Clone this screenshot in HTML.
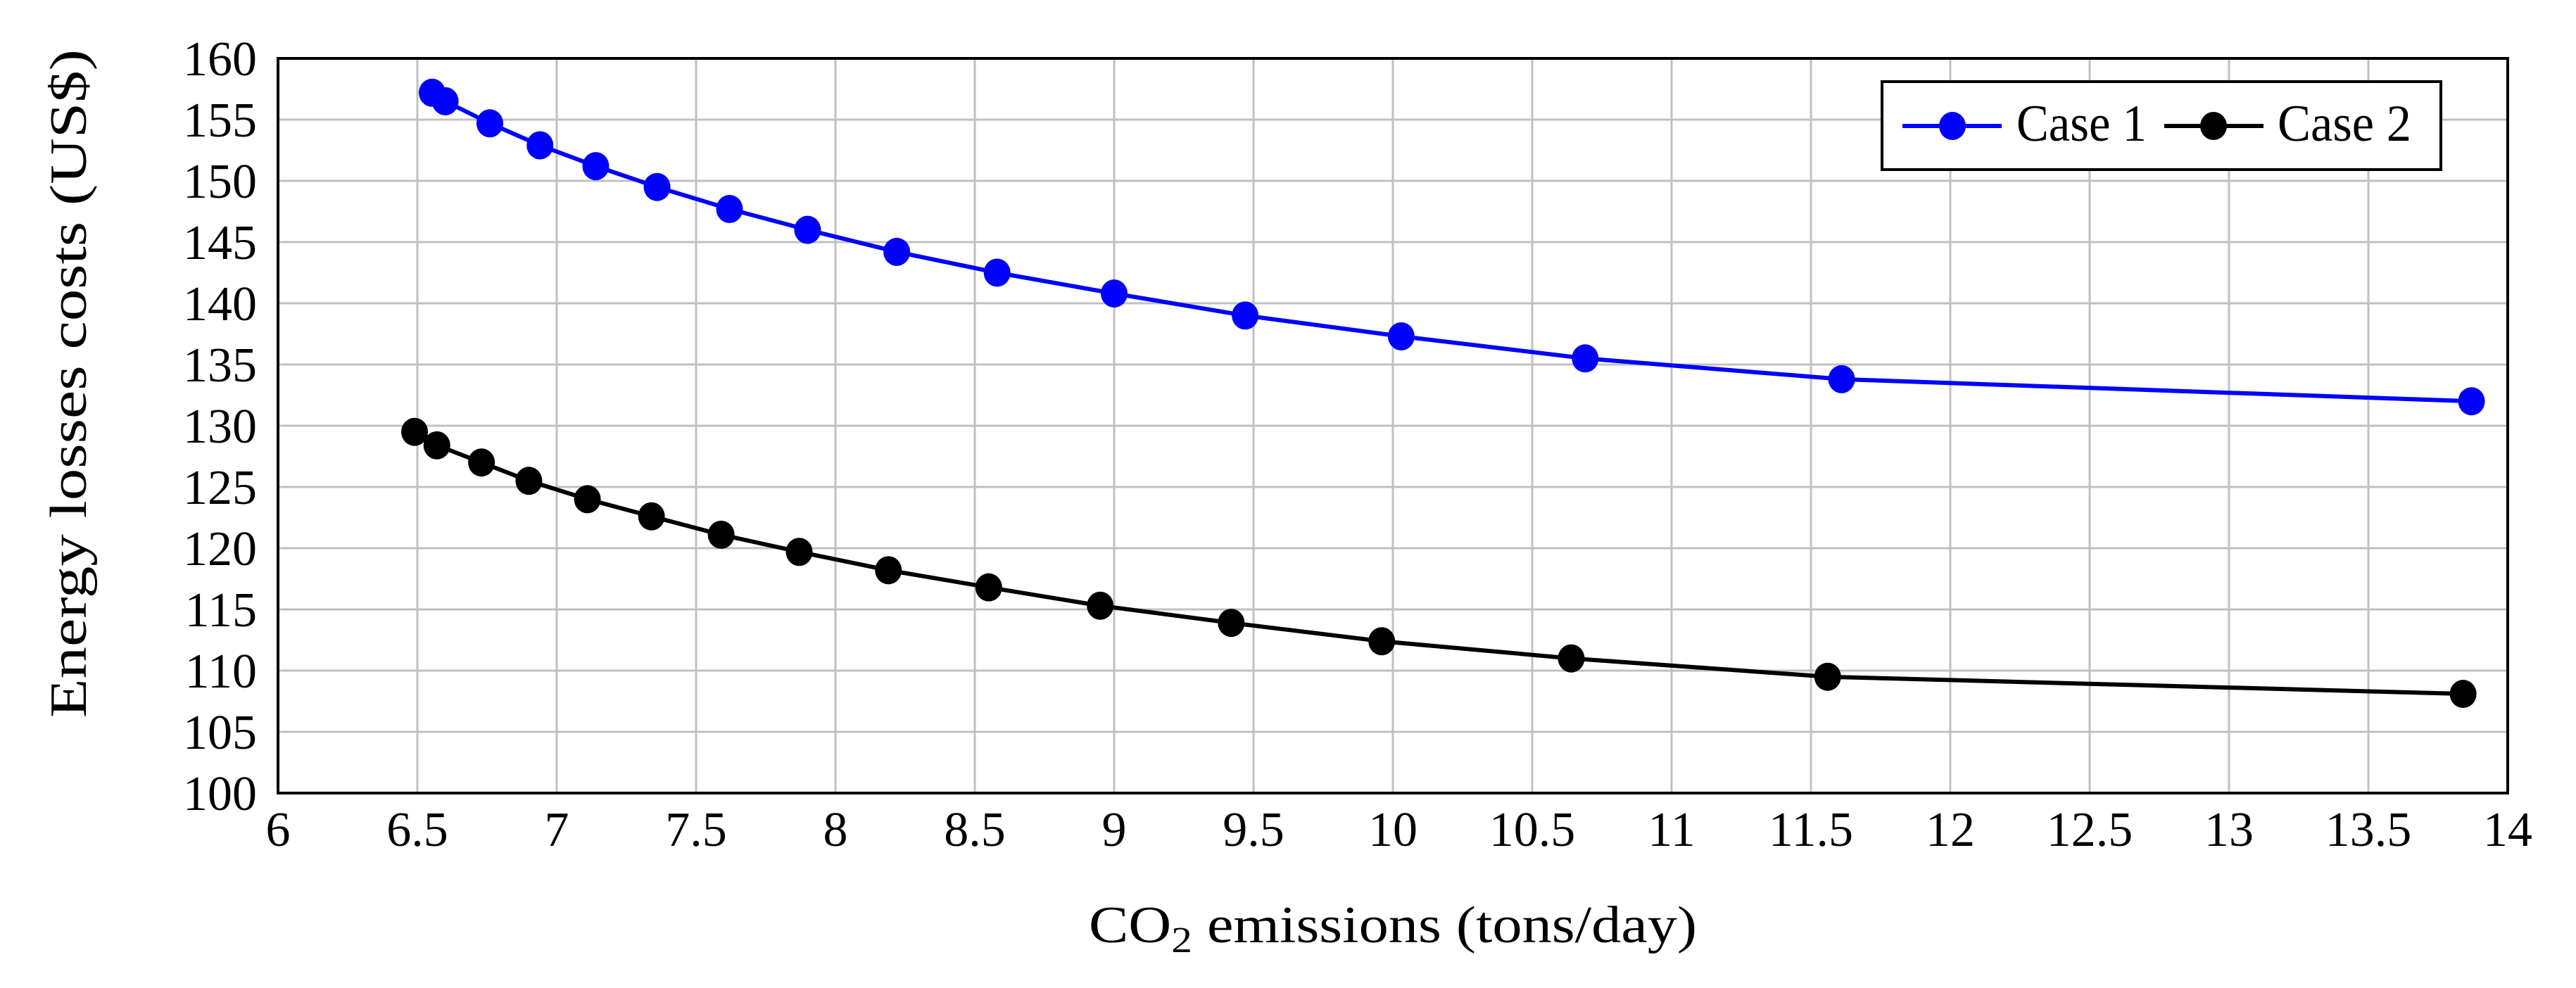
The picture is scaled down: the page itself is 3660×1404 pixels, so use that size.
<!DOCTYPE html>
<html><head><meta charset="utf-8"><style>
html,body{margin:0;padding:0;background:#fff;}
svg{display:block;font-family:"Liberation Serif",serif;}
</style></head><body>
<svg id="chart" width="3660" height="1404" viewBox="0 0 3660 1404" xmlns="http://www.w3.org/2000/svg">
<g id="grid"></g>
<g id="series"></g>
<rect x="395" y="83" width="3168" height="1044" fill="none" stroke="#000" stroke-width="4"/>
<g id="ticks"></g>
<text x="1547" y="1339" font-size="74" textLength="864" lengthAdjust="spacingAndGlyphs">CO<tspan font-size="52" dy="14">2</tspan><tspan dy="-14"> emissions (tons/day)</tspan></text>
<text transform="translate(122,545) rotate(-90)" font-size="74" text-anchor="middle" textLength="950" lengthAdjust="spacingAndGlyphs">Energy losses costs (US$)</text>
<g>
<rect x="2674" y="116" width="794" height="125" fill="#fff" stroke="#000" stroke-width="4"/>
<g>
<line x1="2703" y1="179" x2="2844" y2="179" stroke="#0000ff" stroke-width="6"/>
<ellipse cx="2774" cy="179" rx="19" ry="20" fill="#0000ff"/>
<text x="2865" y="200" font-size="74" textLength="185" lengthAdjust="spacingAndGlyphs">Case 1</text>
</g>
<g>
<line x1="3075" y1="179" x2="3216" y2="179" stroke="#000" stroke-width="6"/>
<ellipse cx="3145" cy="179" rx="19" ry="20" fill="#000"/>
<text x="3236" y="200" font-size="74" textLength="190" lengthAdjust="spacingAndGlyphs">Case 2</text>
</g>
</g>
</svg>
<script>
const xTicks = [6,6.5,7,7.5,8,8.5,9,9.5,10,10.5,11,11.5,12,12.5,13,13.5,14];
const yTicks = [100,105,110,115,120,125,130,135,140,145,150,155,160];
const case1X = [6.553,6.60,6.76,6.94,7.14,7.36,7.62,7.90,8.22,8.58,9.00,9.47,10.03,10.69,11.61,13.87];
const case1Y = [157.2,156.5,154.7,152.9,151.2,149.5,147.7,146.0,144.2,142.5,140.8,139.0,137.3,135.5,133.8,132.0];
const case2X = [6.49,6.57,6.73,6.90,7.11,7.34,7.59,7.87,8.19,8.55,8.95,9.42,9.96,10.64,11.56,13.84];
const case2Y = [129.5,128.4,127.0,125.5,124.0,122.6,121.1,119.7,118.2,116.8,115.3,113.9,112.4,111.0,109.5,108.1];

const NS = "http://www.w3.org/2000/svg";
const L=395,R=3563,T=83,B=1127;
function sx(v){return L+(v-6)/(14-6)*(R-L);}
function sy(v){return B-(v-100)/(160-100)*(B-T);}
function mk(tag,attrs,parent){const e=document.createElementNS(NS,tag);for(const k in attrs)e.setAttribute(k,attrs[k]);parent.appendChild(e);return e;}
const grid=document.getElementById('grid'),ticks=document.getElementById('ticks'),series=document.getElementById('series');
xTicks.forEach(v=>{
  const g=mk('line',{x1:sx(v),x2:sx(v),y1:T,y2:B,stroke:'#c0c0c0','stroke-width':3},grid);
  
  
  const t=mk('text',{x:sx(v),y:1202,'font-size':70,'text-anchor':'middle'},ticks);
  t.textContent=String(v);
  
  
});
yTicks.forEach(v=>{
  const g=mk('line',{x1:L,x2:R,y1:sy(v),y2:sy(v),stroke:'#c0c0c0','stroke-width':3},grid);
  
  
  const t=mk('text',{x:365,y:sy(v)+24,'font-size':70,'text-anchor':'end'},ticks);
  t.textContent=String(v);
  
  
});
function drawSeries(xs,ys,color,name){
  const g=mk('g',{},series);
  
  
  const pts=xs.map((x,i)=>sx(x)+','+sy(ys[i])).join(' ');
  const pl=mk('polyline',{points:pts,fill:'none',stroke:color,'stroke-width':6,'stroke-linejoin':'round'},g);
  
  
  xs.forEach((x,i)=>{
    const c=mk('ellipse',{cx:sx(x),cy:sy(ys[i]),rx:19,ry:20,fill:color},g);
    
    
  });
}
drawSeries(case1X,case1Y,'#0000ff','case-1-series');
drawSeries(case2X,case2Y,'#000000','case-2-series');
</script>
</body></html>
